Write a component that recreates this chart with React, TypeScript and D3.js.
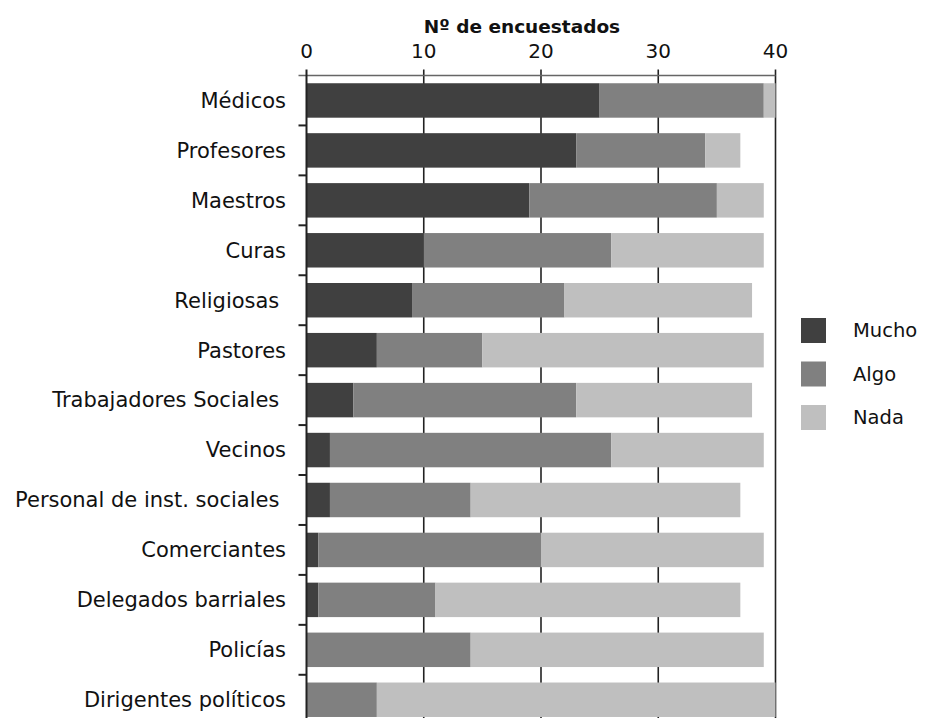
import { useRef, useEffect } from "react";
import * as d3 from "d3";

const categories = [
  "Médicos",
  "Profesores",
  "Maestros",
  "Curas",
  "Religiosas ",
  "Pastores",
  "Trabajadores Sociales ",
  "Vecinos",
  "Personal de inst. sociales ",
  "Comerciantes",
  "Delegados barriales",
  "Policías",
  "Dirigentes políticos",
];

const mucho = [25, 23, 19, 10, 9, 6, 4, 2, 2, 1, 1, 0, 0];
const algo = [14, 11, 16, 16, 13, 9, 19, 24, 12, 19, 10, 14, 6];
const nada = [1, 3, 4, 13, 16, 24, 15, 13, 23, 19, 26, 25, 34];

const seriesNames = ["Mucho", "Algo", "Nada"];
const seriesColors = ["#404040", "#808080", "#bfbfbf"];
const xTicks = [0, 10, 20, 30, 40];
const axisTitle = "Nº de encuestados";

const FONT = "'DejaVu Sans', 'Noto Sans', sans-serif";

export default function App() {
  const svgRef = useRef<SVGSVGElement>(null);
  const width = 925;
  const height = 718;

  useEffect(() => {
    if (!svgRef.current) return;
    const svg = d3.select(svgRef.current);
    svg.selectAll("*").remove();

    const left = 306.5;
    const right = 775.5;
    const top = 75.5;
    const step = 49.94;

    const x = d3.scaleLinear().domain([0, 40]).range([left, right]);
    const y = d3
      .scaleBand<string>()
      .domain(categories)
      .range([top, top + step * categories.length])
      .paddingInner(0.31)
      .paddingOuter(0.155);

    const rows = categories.map((c, i) => ({ name: c, Mucho: mucho[i], Algo: algo[i], Nada: nada[i] }));
    const stack = d3.stack<any>().keys(seriesNames)(rows);

    // grid lines
    svg
      .append("g")
      .selectAll("line")
      .data(xTicks.slice(1))
      .enter()
      .append("line")
      .attr("x1", (d) => x(d))
      .attr("x2", (d) => x(d))
      .attr("y1", top - 6)
      .attr("y2", height)
      .attr("stroke", "#222")
      .attr("stroke-width", 1.6);

    // top line
    svg
      .append("line")
      .attr("x1", left - 8)
      .attr("x2", right)
      .attr("y1", top)
      .attr("y2", top)
      .attr("stroke", "#666")
      .attr("stroke-width", 1.4);

    // bars
    stack.forEach((s, si) => {
      svg
        .append("g")
        .attr("fill", seriesColors[si])
        .selectAll("rect")
        .data(s)
        .enter()
        .append("rect")
        .attr("x", (d) => x(d[0]))
        .attr("y", (d) => y(d.data.name) as number)
        .attr("width", (d) => x(d[1]) - x(d[0]))
        .attr("height", y.bandwidth());
    });

    // left axis line + ticks at band boundaries
    svg
      .append("line")
      .attr("x1", left)
      .attr("x2", left)
      .attr("y1", top - 6)
      .attr("y2", height)
      .attr("stroke", "#222")
      .attr("stroke-width", 2);

    const boundaries = categories.map((c) => (y(c) as number) - (y.step() * y.paddingInner()) / 2);
    svg
      .append("g")
      .selectAll("line")
      .data(boundaries.slice(1))
      .enter()
      .append("line")
      .attr("x1", left - 8)
      .attr("x2", left)
      .attr("y1", (d) => d)
      .attr("y2", (d) => d)
      .attr("stroke", "#222")
      .attr("stroke-width", 2);

    // category labels
    svg
      .append("g")
      .selectAll("text")
      .data(categories)
      .enter()
      .append("text")
      .attr("x", 286)
      .attr("y", (d) => (y(d) as number) + y.bandwidth() / 2)
      .attr("dy", "0.35em")
      .attr("text-anchor", "end")
      .style("white-space", "pre")
      .attr("font-family", FONT)
      .attr("font-size", 21)
      .attr("fill", "#111")
      .text((d) => d);

    // x tick labels
    svg
      .append("g")
      .selectAll("text")
      .data(xTicks)
      .enter()
      .append("text")
      .attr("x", (d) => x(d))
      .attr("y", 58)
      .attr("text-anchor", "middle")
      .attr("font-family", FONT)
      .attr("font-size", 20)
      .attr("fill", "#111")
      .text((d) => d);

    svg
      .append("text")
      .attr("x", 522)
      .attr("y", 33)
      .attr("text-anchor", "middle")
      .attr("font-family", FONT)
      .attr("font-weight", "bold")
      .attr("font-size", 18.5)
      .attr("fill", "#111")
      .text(axisTitle);

    // legend
    const legend = svg.append("g");
    seriesNames.forEach((name, i) => {
      const ly = 318 + i * 43.5;
      legend
        .append("rect")
        .attr("x", 801)
        .attr("y", ly)
        .attr("width", 25)
        .attr("height", 25)
        .attr("fill", seriesColors[i]);
      legend
        .append("text")
        .attr("x", 853)
        .attr("y", ly + 12.5)
        .attr("dy", "0.35em")
        .attr("font-family", FONT)
        .attr("font-size", 19.5)
        .attr("fill", "#111")
        .text(name);
    });
  }, []);

  return (
    <div style={{ position: "absolute", left: 0, top: 0 }}>
      <svg ref={svgRef} width={width} height={height} style={{ display: "block" }} />
    </div>
  );
}
